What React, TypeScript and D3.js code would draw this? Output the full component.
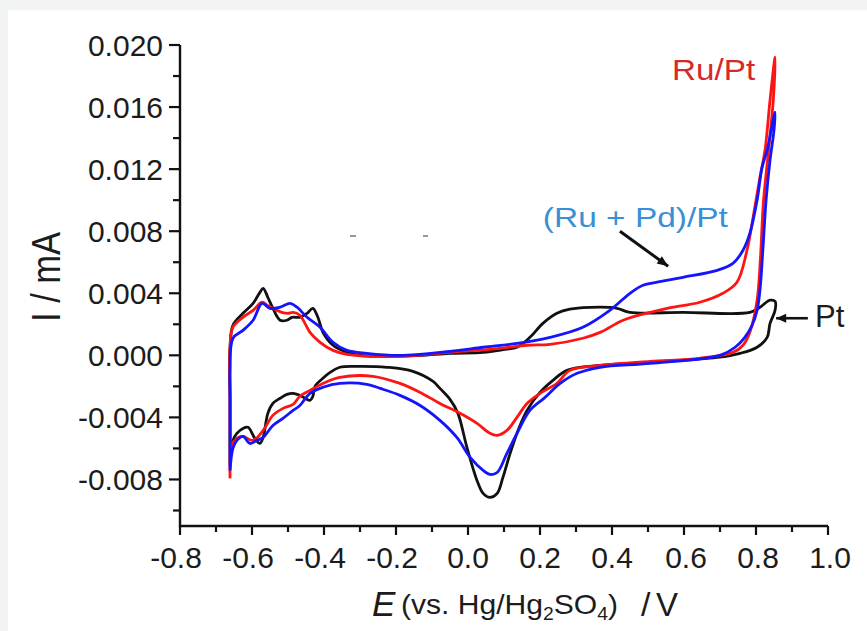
import React from "react";
import * as d3 from "d3";

// Pt (black) cyclic voltammogram: [E / V, I / mA]
const ptCurve: [number, number][] = [
  [-0.661, -0.0071], [-0.661, -0.0029], [-0.661, 0.00052], [-0.653, 0.00194], [-0.625, 0.00271],
  [-0.597, 0.00335], [-0.578, 0.00406], [-0.569, 0.00432], [-0.556, 0.00374], [-0.542, 0.00303],
  [-0.522, 0.00226], [-0.503, 0.00226], [-0.489, 0.00245], [-0.467, 0.00245], [-0.447, 0.00271],
  [-0.431, 0.00303], [-0.417, 0.00245], [-0.403, 0.00148], [-0.375, 0.00065], [-0.336, 0.00019],
  [-0.3, 0], [-0.244, -0.00006], [-0.133, 0], [-0.05, 0.00013], [0.042, 0.00019], [0.103, 0.00039],
  [0.136, 0.00052], [0.172, 0.00116], [0.208, 0.00206], [0.247, 0.00271], [0.283, 0.00297],
  [0.367, 0.0031], [0.414, 0.00303], [0.45, 0.00277], [0.597, 0.00277], [0.783, 0.00277],
  [0.811, 0.0031], [0.839, 0.00355], [0.853, 0.00348], [0.853, 0.0029], [0.839, 0.00206],
  [0.831, 0.00116], [0.803, 0.00052], [0.756, 0.00013], [0.692, -0.00013], [0.506, -0.00045],
  [0.367, -0.00065], [0.275, -0.00097], [0.236, -0.00161], [0.2, -0.00239], [0.164, -0.00355],
  [0.139, -0.00484], [0.117, -0.00632], [0.097, -0.00787], [0.081, -0.0089], [0.061, -0.00916],
  [0.042, -0.0089], [0.025, -0.00806], [-0.003, -0.00593], [-0.028, -0.00374], [-0.05, -0.00284],
  [-0.078, -0.00213], [-0.097, -0.00168], [-0.153, -0.00103], [-0.225, -0.00077], [-0.308, -0.00071],
  [-0.356, -0.00077], [-0.383, -0.0011], [-0.403, -0.00148], [-0.425, -0.002], [-0.431, -0.00264],
  [-0.439, -0.0029], [-0.467, -0.00258], [-0.486, -0.00245], [-0.503, -0.00252], [-0.522, -0.00277],
  [-0.542, -0.0031], [-0.556, -0.00374], [-0.569, -0.00529], [-0.578, -0.00568], [-0.592, -0.00535],
  [-0.611, -0.00464], [-0.625, -0.00471], [-0.642, -0.00503], [-0.653, -0.00548], [-0.658, -0.00613],
  [-0.661, -0.0071],
];

// Ru/Pt (red)
const ruCurve: [number, number][] = [
  [-0.661, -0.00793], [-0.661, -0.0029], [-0.661, 0.00052], [-0.653, 0.00181], [-0.625, 0.00245],
  [-0.597, 0.0029], [-0.572, 0.00342], [-0.558, 0.00323], [-0.542, 0.00303], [-0.517, 0.00277],
  [-0.5, 0.00271], [-0.486, 0.00277], [-0.467, 0.00258], [-0.453, 0.00206], [-0.439, 0.00148],
  [-0.411, 0.00084], [-0.375, 0.00032], [-0.336, 0.00006], [-0.281, -0.00006], [-0.189, -0.00006],
  [-0.05, 0.00019], [0.089, 0.00045], [0.164, 0.00065], [0.228, 0.00071], [0.319, 0.0011],
  [0.367, 0.00148], [0.431, 0.00226], [0.506, 0.00277], [0.553, 0.00303], [0.644, 0.00342],
  [0.708, 0.004], [0.747, 0.00471], [0.775, 0.00677], [0.792, 0.0089], [0.811, 0.01148],
  [0.825, 0.01322], [0.839, 0.01645], [0.853, 0.01922], [0.848, 0.01645], [0.835, 0.01322],
  [0.821, 0.01], [0.812, 0.00613], [0.803, 0.00355], [0.783, 0.00148], [0.764, 0.00065],
  [0.736, 0.00019], [0.644, -0.00019], [0.506, -0.00039], [0.367, -0.00065], [0.283, -0.00097],
  [0.247, -0.00181], [0.2, -0.00245], [0.164, -0.0031], [0.136, -0.004], [0.108, -0.00484],
  [0.081, -0.00516], [0.061, -0.00503], [0.025, -0.00439], [-0.022, -0.00374], [-0.078, -0.0031],
  [-0.133, -0.00239], [-0.189, -0.00181], [-0.264, -0.00135], [-0.356, -0.00142], [-0.403, -0.00181],
  [-0.439, -0.00226], [-0.467, -0.00264], [-0.486, -0.00316], [-0.514, -0.00342], [-0.542, -0.00387],
  [-0.569, -0.00484], [-0.597, -0.00548], [-0.625, -0.00523], [-0.642, -0.00535], [-0.656, -0.00581],
  [-0.661, -0.00793],
];

// (Ru + Pd)/Pt (blue)
const ruPdCurve: [number, number][] = [
  [-0.661, -0.00742], [-0.661, -0.0029], [-0.661, -0.00097], [-0.653, 0.0011], [-0.625, 0.00161],
  [-0.597, 0.00226], [-0.572, 0.00335], [-0.55, 0.00303], [-0.522, 0.0031], [-0.494, 0.00335],
  [-0.475, 0.0031], [-0.447, 0.00245], [-0.411, 0.00181], [-0.375, 0.00084], [-0.336, 0.00032],
  [-0.281, 0.00013], [-0.189, 0], [-0.05, 0.00026], [0.042, 0.00052], [0.136, 0.00077],
  [0.228, 0.00116], [0.319, 0.00181], [0.394, 0.0029], [0.45, 0.004], [0.486, 0.00452],
  [0.525, 0.00471], [0.597, 0.00503], [0.692, 0.00548], [0.736, 0.00593], [0.764, 0.00677],
  [0.783, 0.00787], [0.803, 0.01], [0.817, 0.01213], [0.831, 0.01322], [0.842, 0.01451],
  [0.853, 0.01567], [0.85, 0.01451], [0.839, 0.01258], [0.828, 0.01], [0.819, 0.00677],
  [0.811, 0.00419], [0.803, 0.0029], [0.789, 0.00194], [0.769, 0.00116], [0.742, 0.00052],
  [0.7, 0.0], [0.506, -0.00052],
  [0.367, -0.00077], [0.303, -0.00116], [0.256, -0.00181], [0.214, -0.00271], [0.172, -0.00355],
  [0.136, -0.00503], [0.108, -0.00632], [0.081, -0.00755], [0.061, -0.00768], [0.042, -0.00742],
  [0.006, -0.00658], [-0.031, -0.00529], [-0.078, -0.00419], [-0.133, -0.00323], [-0.189, -0.00258],
  [-0.244, -0.00213], [-0.281, -0.00187], [-0.356, -0.00181], [-0.403, -0.00206], [-0.439, -0.00245],
  [-0.467, -0.00323], [-0.486, -0.00355], [-0.514, -0.00406], [-0.542, -0.00452], [-0.569, -0.00529],
  [-0.586, -0.00548], [-0.606, -0.00568], [-0.625, -0.00522], [-0.642, -0.00548], [-0.653, -0.006],
  [-0.661, -0.00742],
];

const xTicks = [-0.8, -0.6, -0.4, -0.2, 0.0, 0.2, 0.4, 0.6, 0.8, 1.0];
const xTickLabels = ["-0.8", "-0.6", "-0.4", "-0.2", "0.0", "0.2", "0.4", "0.6", "0.8", "1.0"];
const xMinorTicks = [-0.7, -0.5, -0.3, -0.1, 0.1, 0.3, 0.5, 0.7, 0.9];
const yTicks = [-0.008, -0.004, 0.0, 0.004, 0.008, 0.012, 0.016, 0.02];
const yTickLabels = ["-0.008", "-0.004", "0.000", "0.004", "0.008", "0.012", "0.016", "0.020"];
const yMinorTicks = [-0.01, -0.006, -0.002, 0.002, 0.006, 0.01, 0.014, 0.018];

// annotation anchors in data units
const ruLabelPos: [number, number] = [0.567, 0.01774];
const ruPdLabelPos: [number, number] = [0.208, 0.00826];
const ruPdArrow: [number, number][] = [[0.422, 0.008], [0.556, 0.00574]];
const ptLabelPos: [number, number] = [0.964, 0.00181];
const ptArrow: [number, number][] = [[0.944, 0.00239], [0.856, 0.00239]];

const W = 867;
const H = 631;
const FONT = "'Liberation Sans', Arial, Helvetica, sans-serif";

export default function App() {
  const x = d3.scaleLinear().domain([-0.8, 1.0]).range([180, 828]);
  const y = d3.scaleLinear().domain([-0.011, 0.02]).range([526, 45]);
  const line = d3
    .line<[number, number]>()
    .x((d) => x(d[0]))
    .y((d) => y(d[1]))
    .curve(d3.curveCatmullRom.alpha(0.5));

  const series = [
    { data: ptCurve, color: "#111111" },
    { data: ruCurve, color: "#ff1414" },
    { data: ruPdCurve, color: "#1414ff" },
  ];

  const arrowHead = (p0: [number, number], p1: [number, number], len = 11, half = 4.5) => {
    const x0 = x(p0[0]), y0 = y(p0[1]), x1 = x(p1[0]), y1 = y(p1[1]);
    const a = Math.atan2(y1 - y0, x1 - x0);
    const bx = x1 - len * Math.cos(a), by = y1 - len * Math.sin(a);
    const nx = -Math.sin(a) * half, ny = Math.cos(a) * half;
    return `M${x1},${y1}L${bx + nx},${by + ny}L${bx - nx},${by - ny}Z`;
  };

  return (
    <svg
      width={W}
      height={H}
      style={{ position: "absolute", left: 0, top: 0, display: "block" }}
      fontFamily={FONT}
    >
      <rect x={0} y={0} width={W} height={H} fill="#f2f4f4" />
      <rect x={8} y={10} width={W - 8} height={H - 10} fill="#ffffff" />

      {/* curves */}
      {series.map((s, i) => (
        <path key={i} d={line(s.data) || ""} fill="none" stroke={s.color} strokeWidth={2.8} strokeLinejoin="round" />
      ))}

      {/* axes */}
      <path d={`M${x(-0.8)},${y(0.02)}V${y(-0.011)}H${x(1.0)}`} fill="none" stroke="#111" strokeWidth={2.4} />
      {yTicks.map((t, i) => (
        <g key={"yt" + i}>
          <line x1={x(-0.8) - 11} x2={x(-0.8)} y1={y(t)} y2={y(t)} stroke="#111" strokeWidth={2.2} />
          <text x={163} y={y(t) + 10.5} textAnchor="end" fontSize={30} fill="#1c1c1c">
            {yTickLabels[i]}
          </text>
        </g>
      ))}
      {yMinorTicks.map((t, i) => (
        <line key={"ym" + i} x1={x(-0.8) - 7} x2={x(-0.8)} y1={y(t)} y2={y(t)} stroke="#111" strokeWidth={2.2} />
      ))}
      {xTicks.map((t, i) => (
        <g key={"xt" + i}>
          <line x1={x(t)} x2={x(t)} y1={y(-0.011)} y2={y(-0.011) + 9} stroke="#111" strokeWidth={2.2} />
          <text x={x(t) + (t < 0 ? -4 : t > 0.5 ? 2 : 0)} y={568} textAnchor="middle" fontSize={30} fill="#1c1c1c">
            {xTickLabels[i]}
          </text>
        </g>
      ))}
      {xMinorTicks.map((t, i) => (
        <line key={"xm" + i} x1={x(t)} x2={x(t)} y1={y(-0.011)} y2={y(-0.011) + 6} stroke="#111" strokeWidth={2.2} />
      ))}

      {/* axis titles */}
      <text transform="translate(60,277) rotate(-90)" textAnchor="middle" fontSize={40} fill="#1c1c1c" textLength={90} lengthAdjust="spacingAndGlyphs">
        I / mA
      </text>
      <text x={372} y={616} fontSize={35} fontStyle="italic" fill="#1c1c1c">E</text>
      <text x={401} y={614} fontSize={28} fill="#1c1c1c" textLength={217} lengthAdjust="spacingAndGlyphs">
        (vs. Hg/Hg<tspan fontSize={18} dy={6}>2</tspan><tspan dy={-6}>SO</tspan><tspan fontSize={18} dy={6}>4</tspan><tspan dy={-6}>)</tspan>
      </text>
      <text x={641} y={616} fontSize={34} fill="#1c1c1c">/</text>
      <text x={656} y={616} fontSize={33} fill="#1c1c1c">V</text>

      {/* annotations */}
      <text x={x(ruLabelPos[0])} y={y(ruLabelPos[1])} fontSize={29} fill="#d42a2a" textLength={83} lengthAdjust="spacingAndGlyphs">
        Ru/Pt
      </text>
      <text x={x(ruPdLabelPos[0])} y={y(ruPdLabelPos[1])} fontSize={28} fill="#3a8fd6" textLength={185} lengthAdjust="spacingAndGlyphs">
        (Ru + Pd)/Pt
      </text>
      <line x1={x(ruPdArrow[0][0])} y1={y(ruPdArrow[0][1])} x2={x(ruPdArrow[1][0])} y2={y(ruPdArrow[1][1])} stroke="#111" strokeWidth={3} />
      <path d={arrowHead(ruPdArrow[0], ruPdArrow[1])} fill="#111" />
      <text x={x(ptLabelPos[0])} y={y(ptLabelPos[1])} fontSize={31} fill="#1c1c1c">Pt</text>
      <line x1={x(ptArrow[0][0])} y1={y(ptArrow[0][1])} x2={x(ptArrow[1][0])} y2={y(ptArrow[1][1])} stroke="#111" strokeWidth={2.6} />
      <path d={arrowHead(ptArrow[0], ptArrow[1], 10, 4.5)} fill="#111" />

      {/* faint stray marks present in the source image */}
      <rect x={350} y={235} width={6} height={2} fill="#999" />
      <rect x={423} y={235} width={5} height={2} fill="#999" />
    </svg>
  );
}
